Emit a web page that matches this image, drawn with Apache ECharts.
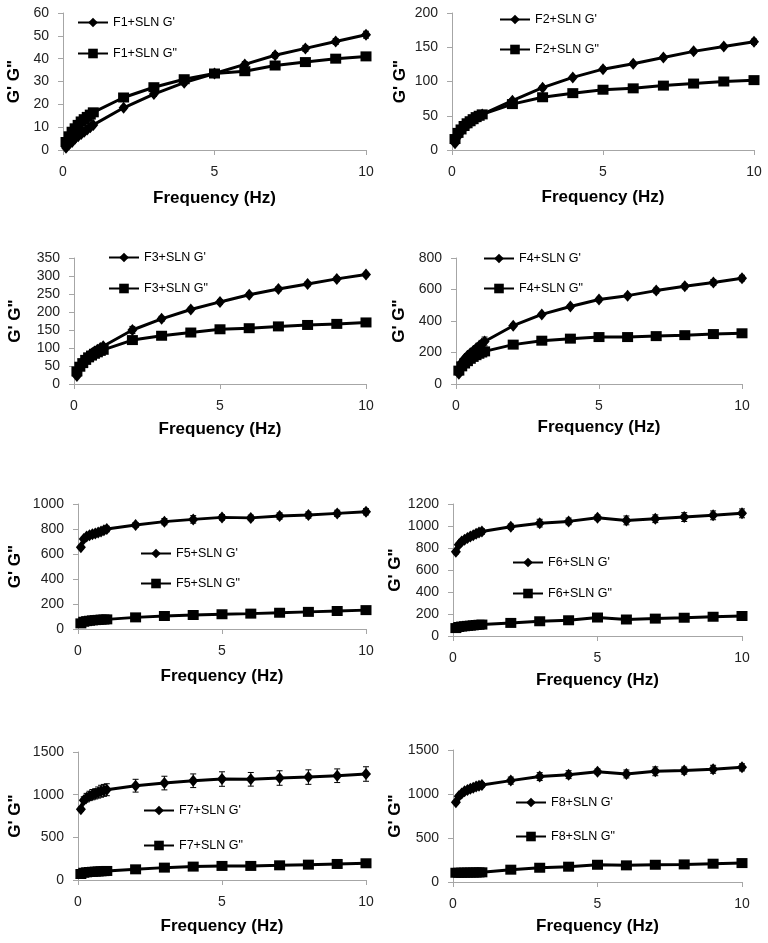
<!DOCTYPE html>
<html>
<head>
<meta charset="utf-8">
<title>G' G" vs frequency</title>
<script src="https://cdn.jsdelivr.net/npm/echarts@6/dist/echarts.min.js"></script>
<style>
    html, body { margin: 0; padding: 0; background: #fff; }
    #main { width: 768px; height: 943px; }
</style>
</head>
<body>
<div id="main"></div>
<script>
// frequency points (Hz)
var freq = [0.1, 0.2, 0.3, 0.4, 0.5, 0.6, 0.7, 0.8, 0.9, 1, 2, 3, 4, 5, 6, 7, 8, 9, 10];

// G' (storage) / G" (loss) per formulation, plus error of G'
var f1Gp = [1, 2.5, 3.5, 5, 6, 7, 8, 9, 10, 11, 18.5, 24.5, 29.5, 33.5, 37.5, 41.5, 44.5, 47.5, 50.5];
var f1Gpp = [3.5, 6, 8, 9.5, 11, 12.5, 13.5, 14.5, 15.5, 16.5, 23, 27.5, 31, 33.5, 34.5, 37, 38.5, 40, 41];
var f1Err = [0.3, 0.3, 0.3, 0.4, 0.4, 0.4, 0.5, 0.5, 0.5, 0.5, 0.8, 1, 1, 1, 1.2, 1.2, 1.3, 1.3, 1.5];

var f2Gp = [10, 20, 27, 32, 36, 40, 43, 46, 49, 52, 72, 91, 106, 118, 126, 135, 144, 151, 158];
var f2Gpp = [16, 25, 30, 35, 39, 42, 45, 48, 50, 52, 67, 77, 83, 88, 90, 94, 97, 100, 102];
var f2Err = [1, 1, 1, 1, 1.5, 1.5, 1.5, 1.5, 2, 2, 3, 3, 3, 3, 3, 3, 3, 3, 4];

var f3Gp = [22, 48, 60, 70, 77, 84, 90, 95, 100, 105, 150, 181, 207, 228, 248, 264, 278, 292, 304];
var f3Gpp = [35, 48, 58, 67, 74, 79, 84, 88, 92, 95, 122, 134, 143, 152, 155, 160, 164, 167, 171];
var f3Err = [3, 3, 3, 3, 4, 4, 4, 4, 5, 5, 10, 7, 6, 6, 6, 6, 6, 6, 6];

var f4Gp = [65, 135, 160, 180, 195, 210, 225, 240, 255, 270, 370, 442, 492, 536, 561, 593, 620, 645, 672];
var f4Gpp = [85, 112, 130, 145, 160, 172, 183, 192, 200, 207, 250, 275, 288, 298, 298, 304, 310, 317, 322];
var f4Err = [8, 10, 10, 12, 15, 15, 18, 20, 22, 28, 12, 12, 12, 14, 14, 16, 16, 18, 18];

var f5Gp = [655, 720, 740, 750, 758, 765, 772, 780, 790, 800, 832, 859, 877, 893, 889, 904, 912, 925, 938];
var f5Gpp = [45, 58, 63, 66, 69, 71, 73, 75, 76, 77, 93, 104, 112, 118, 123, 130, 137, 144, 151];
var f5Err = [15, 15, 15, 15, 18, 18, 18, 20, 20, 22, 20, 25, 30, 22, 22, 25, 25, 25, 25];

var f6Gp = [765, 830, 860, 875, 890, 905, 915, 930, 940, 950, 993, 1026, 1042, 1075, 1051, 1066, 1081, 1097, 1115];
var f6Gpp = [72, 82, 86, 89, 92, 94, 97, 100, 102, 104, 119, 134, 143, 168, 150, 158, 166, 175, 182];
var f6Err = [20, 20, 20, 20, 22, 22, 22, 25, 25, 25, 25, 35, 30, 25, 40, 35, 40, 40, 40];

var f7Gp = [830, 935, 965, 985, 1000, 1010, 1025, 1040, 1050, 1058, 1105, 1136, 1163, 1183, 1180, 1195, 1206, 1222, 1242];
var f7Gpp = [70, 85, 90, 94, 96, 98, 100, 102, 104, 106, 125, 145, 157, 165, 165, 172, 180, 188, 196];
var f7Err = [25, 40, 50, 55, 60, 60, 65, 70, 70, 70, 75, 80, 80, 85, 80, 85, 85, 80, 85];

var f8Gp = [905, 975, 1005, 1030, 1045, 1060, 1070, 1085, 1095, 1103, 1152, 1198, 1220, 1254, 1228, 1258, 1266, 1281, 1303];
var f8Gpp = [105, 105, 106, 106, 107, 107, 108, 108, 109, 110, 140, 162, 174, 196, 189, 196, 200, 208, 215];
var f8Err = [20, 20, 20, 22, 22, 22, 25, 25, 25, 25, 40, 45, 45, 30, 45, 50, 40, 45, 40];

var formulations = ['F1', 'F2', 'F3', 'F4', 'F5', 'F6', 'F7', 'F8'];
var yMax = [60, 200, 350, 800, 1000, 1200, 1500, 1500];
var yStep = [10, 50, 50, 200, 200, 200, 500, 500];
var xMax = 10;
var xStep = 5;

var gpList = [f1Gp, f2Gp, f3Gp, f4Gp, f5Gp, f6Gp, f7Gp, f8Gp];
var gppList = [f1Gpp, f2Gpp, f3Gpp, f4Gpp, f5Gpp, f6Gpp, f7Gpp, f8Gpp];
var errList = [f1Err, f2Err, f3Err, f4Err, f5Err, f6Err, f7Err, f8Err];

// panel layout (pixels)
var grids = [
    { left: 63, top: 13, width: 303, height: 137 },
    { left: 452, top: 13, width: 302, height: 137 },
    { left: 74, top: 258, width: 292, height: 126 },
    { left: 456, top: 258, width: 286, height: 126 },
    { left: 78, top: 504, width: 288, height: 125 },
    { left: 453, top: 504, width: 289, height: 132 },
    { left: 78, top: 752, width: 288, height: 128 },
    { left: 453, top: 750, width: 289, height: 132 }
];
var yNameGap = [40, 43, 50, 48, 54, 44, 54, 44];
var xNameGap = [40, 39, 37, 35, 39, 36, 38, 36];
var legendPos = [
    { left: 77, top: 16, gap: 18 },
    { left: 499, top: 13, gap: 17 },
    { left: 108, top: 251, gap: 18 },
    { left: 483, top: 252, gap: 17 },
    { left: 140, top: 547, gap: 17 },
    { left: 512, top: 556, gap: 18 },
    { left: 143, top: 804, gap: 22 },
    { left: 515, top: 796, gap: 21 }
];

var FONT = '"Liberation Sans", Arial, sans-serif';
var AXIS_GRAY = '#a6a6a6';

window.onload = function () {
    DrawChart();
};

// 误差线
function renderErrorBar(params, api) {
    var x = api.value(0);
    var lo = api.coord([x, api.value(1)]);
    var hi = api.coord([x, api.value(2)]);
    var w = 3;
    var style = { stroke: '#000', lineWidth: 1 };
    return {
        type: 'group',
        children: [
            { type: 'line', shape: { x1: lo[0], y1: lo[1], x2: hi[0], y2: hi[1] }, style: style },
            { type: 'line', shape: { x1: lo[0] - w, y1: lo[1], x2: lo[0] + w, y2: lo[1] }, style: style },
            { type: 'line', shape: { x1: hi[0] - w, y1: hi[1], x2: hi[0] + w, y2: hi[1] }, style: style }
        ]
    };
}

function pairs(ys) {
    return freq.map(function (x, i) { return [x, ys[i]]; });
}

function DrawChart() {
    var myChart = echarts.init(document.getElementById('main'));
    var option = {
        animation: false,
        backgroundColor: '#fff',
        grid: [],
        xAxis: [],
        yAxis: [],
        legend: [],
        series: []
    };

    for (var i = 0; i < formulations.length; i++) {
        var nameGp = formulations[i] + "+SLN G'";
        var nameGpp = formulations[i] + '+SLN G"';

        option.grid.push(grids[i]);

        option.xAxis.push({
            type: 'value',
            gridIndex: i,
            min: 0,
            max: xMax,
            interval: xStep,
            name: 'Frequency (Hz)',
            nameLocation: 'middle',
            nameGap: xNameGap[i],
            nameTextStyle: { fontFamily: FONT, fontSize: 17, fontWeight: 'bold', color: '#000' },
            axisLine: { lineStyle: { color: AXIS_GRAY, width: 1 } },
            axisTick: { show: true, length: 5, lineStyle: { color: AXIS_GRAY } },
            axisLabel: { fontFamily: FONT, fontSize: 14, color: '#222', margin: 15 },
            splitLine: { show: false }
        });

        option.yAxis.push({
            type: 'value',
            gridIndex: i,
            min: 0,
            max: yMax[i],
            interval: yStep[i],
            name: 'G\' G"',
            nameLocation: 'middle',
            nameGap: yNameGap[i],
            nameTextStyle: { fontFamily: FONT, fontSize: 17, fontWeight: 'bold', color: '#000' },
            axisLine: { show: true, lineStyle: { color: AXIS_GRAY, width: 1 } },
            axisTick: { show: true, length: 5, lineStyle: { color: AXIS_GRAY } },
            axisLabel: {
                fontFamily: FONT, fontSize: 14, color: '#222', margin: 14,
                formatter: function (v) { return String(v); }
            },
            splitLine: { show: false }
        });

        option.legend.push({
            data: [nameGp, nameGpp],
            orient: 'vertical',
            left: legendPos[i].left,
            top: legendPos[i].top,
            itemGap: legendPos[i].gap,
            itemWidth: 30,
            itemHeight: 12,
            padding: 0,
            textStyle: { fontFamily: FONT, fontSize: 12.5, color: '#000', lineHeight: 12 }
        });

        // 误差线 G'
        var errData = freq.map(function (x, k) {
            return [x, gpList[i][k] - errList[i][k], gpList[i][k] + errList[i][k]];
        });
        option.series.push({
            type: 'custom',
            xAxisIndex: i,
            yAxisIndex: i,
            renderItem: renderErrorBar,
            encode: { x: 0, y: [1, 2] },
            data: errData,
            z: 1,
            silent: true
        });

        option.series.push({
            name: nameGp,
            type: 'line',
            xAxisIndex: i,
            yAxisIndex: i,
            data: pairs(gpList[i]),
            symbol: 'diamond',
            symbolSize: [10, 12],
            lineStyle: { color: '#000', width: 3 },
            itemStyle: { color: '#000' },
            z: 3
        });

        option.series.push({
            name: nameGpp,
            type: 'line',
            xAxisIndex: i,
            yAxisIndex: i,
            data: pairs(gppList[i]),
            symbol: 'rect',
            symbolSize: [11, 10],
            lineStyle: { color: '#000', width: 3 },
            itemStyle: { color: '#000' },
            z: 2
        });
    }

    myChart.setOption(option);
}
</script>
</body>
</html>
